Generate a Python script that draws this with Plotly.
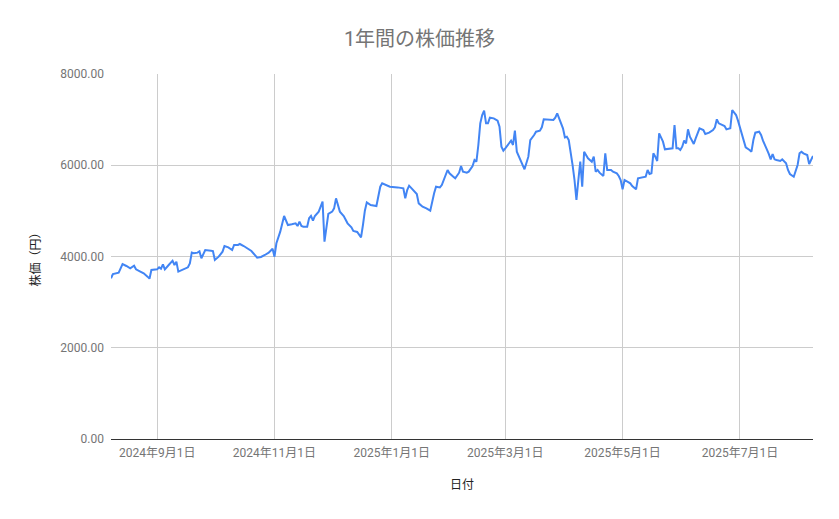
import plotly.graph_objects as go

dates = [
    "2024-08-08","2024-08-09","2024-08-12","2024-08-14","2024-08-16","2024-08-18","2024-08-20","2024-08-21",
    "2024-08-23","2024-08-25","2024-08-27","2024-08-28","2024-08-29","2024-09-01","2024-09-02","2024-09-03",
    "2024-09-04","2024-09-05","2024-09-07","2024-09-09","2024-09-10","2024-09-11","2024-09-12","2024-09-15",
    "2024-09-17","2024-09-18","2024-09-19","2024-09-20","2024-09-22","2024-09-23","2024-09-24","2024-09-26",
    "2024-09-27","2024-09-29","2024-09-30","2024-10-01","2024-10-03","2024-10-05","2024-10-06","2024-10-08",
    "2024-10-10","2024-10-11","2024-10-13","2024-10-14","2024-10-16","2024-10-18","2024-10-20","2024-10-23",
    "2024-10-25","2024-10-27","2024-10-29","2024-10-31","2024-11-01","2024-11-02","2024-11-04","2024-11-06",
    "2024-11-07","2024-11-08","2024-11-10","2024-11-12","2024-11-13","2024-11-14","2024-11-15","2024-11-16",
    "2024-11-18","2024-11-19","2024-11-20","2024-11-21","2024-11-22","2024-11-24","2024-11-25","2024-11-26",
    "2024-11-27","2024-11-28","2024-11-29","2024-12-01","2024-12-02","2024-12-03","2024-12-04","2024-12-05",
    "2024-12-07","2024-12-09","2024-12-11","2024-12-12","2024-12-14","2024-12-15","2024-12-16","2024-12-17",
    "2024-12-18","2024-12-19","2024-12-21","2024-12-24","2024-12-25","2024-12-26","2024-12-27","2024-12-29",
    "2024-12-31","2025-01-04","2025-01-07","2025-01-08","2025-01-09","2025-01-10","2025-01-12","2025-01-14",
    "2025-01-15","2025-01-17","2025-01-19","2025-01-21","2025-01-23","2025-01-24","2025-01-26","2025-01-27",
    "2025-01-30","2025-01-31","2025-02-02","2025-02-03","2025-02-05","2025-02-06","2025-02-07","2025-02-09",
    "2025-02-10","2025-02-12","2025-02-13","2025-02-14","2025-02-15","2025-02-16","2025-02-17","2025-02-18",
    "2025-02-19","2025-02-20","2025-02-21","2025-02-23","2025-02-25","2025-02-26","2025-02-27","2025-02-28",
    "2025-03-01","2025-03-03","2025-03-04","2025-03-05","2025-03-06","2025-03-07","2025-03-08","2025-03-10",
    "2025-03-11","2025-03-13","2025-03-14","2025-03-16","2025-03-17","2025-03-19","2025-03-20","2025-03-21",
    "2025-03-23","2025-03-26","2025-03-27","2025-03-28","2025-03-29","2025-03-30","2025-03-31","2025-04-01",
    "2025-04-02","2025-04-03","2025-04-04","2025-04-05","2025-04-06","2025-04-07","2025-04-08","2025-04-09",
    "2025-04-10","2025-04-11","2025-04-12","2025-04-13","2025-04-15","2025-04-16","2025-04-17","2025-04-18",
    "2025-04-19","2025-04-20","2025-04-21","2025-04-22","2025-04-23","2025-04-25","2025-04-26","2025-04-28",
    "2025-04-29","2025-04-30","2025-05-01","2025-05-02","2025-05-05","2025-05-06","2025-05-08","2025-05-09",
    "2025-05-11","2025-05-13","2025-05-14","2025-05-15","2025-05-16","2025-05-17","2025-05-18","2025-05-19",
    "2025-05-20","2025-05-21","2025-05-22","2025-05-23","2025-05-25","2025-05-27","2025-05-28","2025-05-29",
    "2025-05-30","2025-05-31","2025-06-01","2025-06-02","2025-06-03","2025-06-04","2025-06-05","2025-06-07",
    "2025-06-08","2025-06-10","2025-06-12","2025-06-13","2025-06-15","2025-06-17","2025-06-18","2025-06-19",
    "2025-06-20","2025-06-22","2025-06-23","2025-06-24","2025-06-26","2025-06-27","2025-06-29","2025-06-30",
    "2025-07-02","2025-07-03","2025-07-04","2025-07-06","2025-07-07","2025-07-08","2025-07-09","2025-07-11",
    "2025-07-12","2025-07-13","2025-07-14","2025-07-15","2025-07-16","2025-07-17","2025-07-18","2025-07-19",
    "2025-07-20","2025-07-22","2025-07-23","2025-07-25","2025-07-26","2025-07-27","2025-07-29","2025-07-30",
    "2025-07-31","2025-08-01","2025-08-02","2025-08-03","2025-08-05","2025-08-06","2025-08-07","2025-08-08",
]

prices = [
    3522,3616,3645,3835,3792,3741,3799,3719,
    3675,3631,3558,3514,3704,3719,3763,3734,
    3828,3719,3814,3908,3814,3887,3668,3719,
    3763,3850,4084,4070,4084,4114,3960,4142,
    4142,4128,4120,3923,3996,4106,4230,4201,
    4142,4252,4252,4274,4230,4179,4120,3974,
    3990,4033,4084,4170,3996,4289,4544,4888,
    4800,4690,4705,4727,4668,4764,4668,4654,
    4654,4837,4888,4786,4888,4983,5092,5202,
    4325,4690,4932,4983,5056,5275,5107,4983,
    4888,4727,4639,4559,4537,4471,4420,4690,
    5004,5187,5129,5107,5311,5530,5604,5567,
    5530,5515,5494,5275,5457,5552,5472,5370,
    5165,5092,5056,5004,5385,5530,5515,5567,
    5896,5823,5749,5713,5837,5984,5859,5837,
    5859,5984,6115,6078,6444,6919,7101,7196,
    6919,6919,7043,7028,6977,6845,6407,6319,
    6371,6495,6539,6444,6758,6297,6203,6005,
    5911,6188,6553,6663,6736,6758,6832,7007,
    7007,6992,7043,7138,7028,6919,6810,6612,
    6626,6553,6297,6005,5677,5238,5677,6078,
    5530,6297,6225,6152,6078,6188,5859,5896,
    5837,5808,5764,6262,5896,5896,5859,5823,
    5764,5677,5472,5677,5604,5545,5472,5713,
    5735,5749,5896,5808,5823,6262,6188,6093,
    6700,6620,6517,6349,6360,6371,6882,6371,
    6371,6334,6407,6539,6480,6787,6626,6466,
    6590,6810,6773,6685,6714,6773,6832,7007,
    6919,6882,6860,6787,6810,7211,7101,6977,
    6700,6517,6393,6334,6297,6553,6714,6736,
    6663,6539,6422,6349,6247,6130,6247,6130,
    6115,6093,6130,6042,5896,5808,5749,5896,
    6005,6262,6297,6262,6225,6027,6100,6203,
]

tick_dates = ["2024-09-01", "2024-11-01", "2025-01-01", "2025-03-01", "2025-05-01", "2025-07-01"]
tick_labels = ["2024年9月1日", "2024年11月1日", "2025年1月1日", "2025年3月1日", "2025年5月1日", "2025年7月1日"]
y_ticks = [0, 2000, 4000, 6000, 8000]

FONT = "Roboto, 'Noto Sans CJK JP', sans-serif"

fig = go.Figure()
fig.add_trace(go.Scatter(
    x=dates, y=prices, mode="lines",
    line=dict(color="#4285F4", width=2),
    name="株価",
))

fig.update_layout(
    width=839, height=519,
    margin=dict(l=103, r=34, t=66, b=88),
    paper_bgcolor="white", plot_bgcolor="white",
    showlegend=False,
    font=dict(family=FONT, color="#757575", size=12),
    title=dict(text="1年間の株価推移", x=(419.5 - 8) / 839, xanchor="center",
               y=1 - 31 / 519, yanchor="middle", yref="container",
               font=dict(family=FONT, size=20, color="#757575")),
    xaxis=dict(
        range=[dates[0], dates[-1]],
        tickvals=tick_dates, ticktext=tick_labels,
        showgrid=True, gridcolor="#cccccc", gridwidth=1,
        showline=False, zeroline=False, ticks="",
        ticklabelstandoff=5,
        tickfont=dict(family=FONT, size=12, color="#757575"),
    ),
    yaxis=dict(
        range=[0, 8000],
        tickvals=y_ticks, tickformat=".2f",
        showgrid=True, gridcolor="#cccccc", gridwidth=1,
        zeroline=True, zerolinecolor="#333333", zerolinewidth=1,
        showline=False, ticks="",
        ticklabelstandoff=6,
        tickfont=dict(family=FONT, size=12, color="#757575"),
    ),
    annotations=[
        dict(text="日付", xref="paper", yref="paper", x=0.5, y=-46 / 365,
             xanchor="center", yanchor="middle", showarrow=False,
             font=dict(family=FONT, size=12, color="#222222")),
        dict(text="株価（円）", xref="paper", yref="paper", x=-76 / 702, y=0.5,
             xanchor="center", yanchor="middle", showarrow=False, textangle=-90,
             font=dict(family=FONT, size=12, color="#222222")),
    ],
)

fig.write_html("out.html")
